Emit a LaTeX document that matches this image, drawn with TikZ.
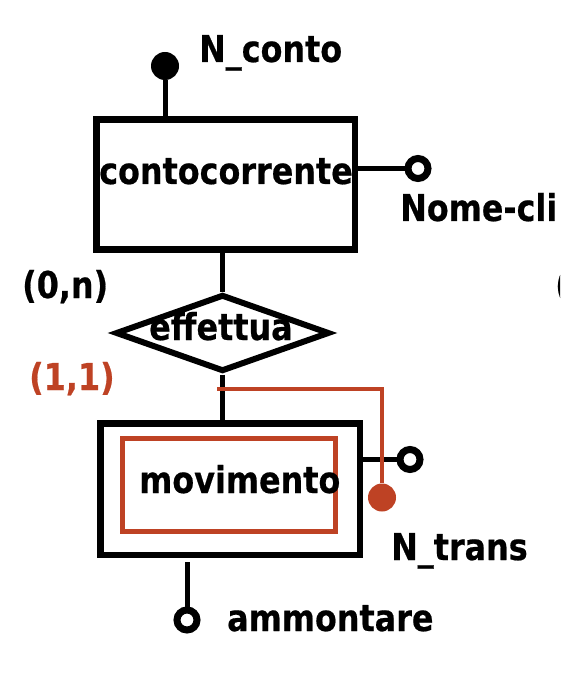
\documentclass[tikz,border=0pt]{standalone}
\usepackage{fontspec}
\usetikzlibrary{shapes.geometric}
\newfontfamily\erfont{DejaVu Sans}[FakeStretch=0.86, FakeBold=0.5]
\definecolor{rust}{RGB}{190,66,36}
\begin{document}
\begin{tikzpicture}[x=1pt,y=-1pt,
  lbl/.style={inner sep=0, anchor=base west, font=\erfont\bfseries\fontsize{37}{40}\selectfont},
  entbox/.style={draw, line width=6.5, inner sep=0},
  relbox/.style={draw, diamond, line width=6, inner sep=0},
  link/.style={line width=5},
  attr/.style={circle, draw, line width=7, minimum size=20, inner sep=0, fill=white},
  keyattr/.style={circle, fill, minimum size=28, inner sep=0},
  redline/.style={rust, line width=4}]
\useasboundingbox (0,0) rectangle (560,692);
\clip (0,0) rectangle (560,692);

% entity contocorrente
\node[entbox, minimum width=258.5, minimum height=130] (conto) at (225.75,184.5) {};
\node[lbl] (tconto) at (99,184) {contocorrente};

% key attribute N_conto
\node[keyattr] (kconto) at (165,66) {};
\draw[link] (kconto) -- (kconto |- conto.north);
\node[lbl] (tkconto) at (199,62) {N\_conto};

% attribute Nome-cli
\node[attr] (anome) at (418,168.5) {};
\draw[link] (conto.east |- anome) -- (anome);
\node[lbl] (tnome) at (400,221) {Nome-cli};

% relationship effettua
\node[relbox, minimum width=214, minimum height=77] (eff) at (222.5,333) {};
\node[lbl] (teff) at (149,340) {effettua};
\draw[link] (eff.north) -- (eff.north |- conto.south);

% cardinalities
\node[lbl] (c0n) at (22,298) {(0,n)};
\node[lbl, text=rust] (c11) at (29,390) {(1,1)};
\node[lbl] (cpart) at (555,298) {(};

% weak entity movimento
\node[entbox, minimum width=259.5, minimum height=131.5] (mov) at (230.25,489.25) {};
\node[draw=rust, line width=5, inner sep=0, minimum width=213, minimum height=92.5] (movin) at (229,484.75) {};
\node[lbl] (tmov) at (139,493) {movimento};
\draw[link] (eff.south) -- (eff.south |- mov.north);

% attribute right of movimento
\node[attr] (amov) at (410,459.5) {};
\draw[link] (mov.east |- amov) -- (amov);

% composite key N_trans
\coordinate (rs) at (217,389);
\node[keyattr, fill=rust] (ntrans) at (382,497.5) {};
\draw[redline] (rs) -| (ntrans.north);
\node[lbl] (tntrans) at (391,560) {N\_trans};

% attribute ammontare
\node[attr] (amm) at (187,620) {};
\draw[link] ([yshift=-4pt]mov.south -| amm) -- (amm);
\node[lbl] (tamm) at (227,631) {ammontare};
\end{tikzpicture}
\end{document}
